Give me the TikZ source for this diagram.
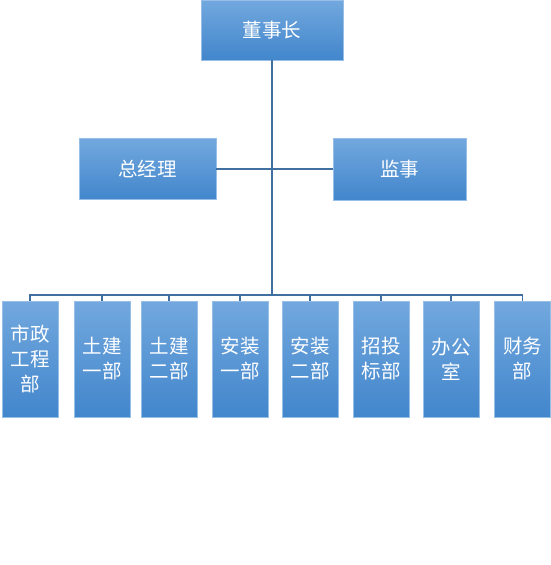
\documentclass[tikz,border=0pt]{standalone}
\usepackage{fontspec}
\setmainfont{Noto Sans CJK SC}
\usepackage{tikz}
\usetikzlibrary{positioning,calc}

\definecolor{boxtop}{RGB}{114,168,222}
\definecolor{boxbot}{RGB}{66,134,204}
\definecolor{boxline}{RGB}{150,190,230}
\definecolor{wire}{RGB}{64,112,160}

\begin{document}
\begin{tikzpicture}[x=1pt,y=-1pt,
  every node/.style={font=\fontsize{19.5}{25}\selectfont,text=white},
  unit/.style={draw=boxline,line width=0.8pt,top color=boxtop,bottom color=boxbot,inner sep=0pt,align=center},
  wide/.style={unit,minimum width=137pt,minimum height=61pt},
  dept/.style={unit,minimum width=56pt,minimum height=116pt,text width=54pt},
  link/.style={draw=wire,line width=1.2pt}]
\useasboundingbox (0,0) rectangle (551,565);
\node[wide,minimum width=142pt,minimum height=60pt] (dsz) at (272,30) {董事长};
\node[wide] (zjl) at (147.5,169) {总经理};
\node[wide,minimum width=133pt,minimum height=62pt] (js) at (399.5,169) {监事};
\coordinate (mid) at (272,169);
\coordinate (bus) at (272,295);
% departments
\node[dept] (d1) at (30,359) {市政\\工程\\部};
\node[dept] (d2) at (102,359) {土建\\一部};
\node[dept] (d3) at (169,359) {土建\\二部};
\node[dept] (d4) at (240,359) {安装\\一部};
\node[dept] (d5) at (310,359) {安装\\二部};
\node[dept] (d6) at (381,359) {招投\\标部};
\node[dept] (d7) at (451,359) {办公\\室};
\node[dept] (d8) at (522.5,359) {财务\\部};
\draw[link] (dsz) -- (bus);
\draw[link] (zjl) -- (mid) -- (js);
\foreach \i in {1,...,8} \draw[link] (bus) -| (d\i.north);
\end{tikzpicture}
\end{document}
